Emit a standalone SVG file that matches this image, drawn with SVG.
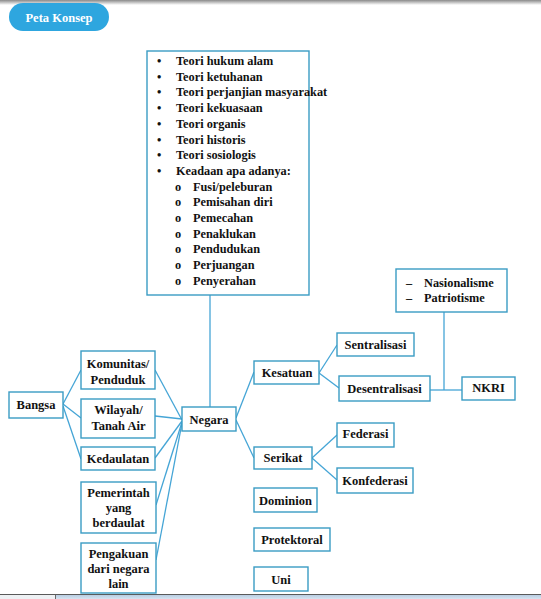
<svg xmlns="http://www.w3.org/2000/svg" width="541" height="599" viewBox="0 0 541 599">
<defs>
<linearGradient id="topbar" x1="0" y1="0" x2="0" y2="1"><stop offset="0" stop-color="#8a8a8a"/><stop offset="1" stop-color="#ffffff"/></linearGradient>
<linearGradient id="botbar" x1="0" y1="0" x2="0" y2="1"><stop offset="0" stop-color="#b9cde2"/><stop offset="1" stop-color="#d6e3f0"/></linearGradient>
<style>
.box{fill:#ffffff;stroke:#3a9cc4;stroke-width:1.4}
.t{font-family:'Times New Roman','Liberation Serif',serif;font-weight:bold;font-size:12.5px;fill:#111;text-anchor:middle}
.l{font-family:'Times New Roman','Liberation Serif',serif;font-weight:bold;font-size:12.3px;fill:#111}
.c{fill:none;stroke:#45a5d6;stroke-width:1.3}
</style>
</defs>
<rect x="0" y="0" width="541" height="599" fill="#ffffff"/>
<rect x="0" y="0" width="541" height="5" fill="url(#topbar)"/>
<g id="title">
<rect x="9" y="3" width="100" height="28" rx="14" fill="#2ea6df"/>
<text x="59" y="21.5" class="t" style="fill:#ffffff">Peta Konsep</text>
</g>
<g id="connectors">
<line class="c" x1="63" y1="404" x2="81" y2="370"/>
<line class="c" x1="63" y1="404" x2="81" y2="418"/>
<line class="c" x1="63" y1="406" x2="81" y2="459"/>
<line class="c" x1="155" y1="370" x2="182" y2="420"/>
<line class="c" x1="155" y1="416" x2="182" y2="419"/>
<line class="c" x1="155" y1="458" x2="182" y2="421"/>
<line class="c" x1="156" y1="505" x2="182" y2="422"/>
<line class="c" x1="156" y1="560" x2="182" y2="423"/>
<line class="c" x1="210" y1="295" x2="210" y2="407"/>
<line class="c" x1="236" y1="418" x2="254" y2="372"/>
<line class="c" x1="236" y1="420" x2="254" y2="458"/>
<line class="c" x1="319" y1="373" x2="337" y2="345"/>
<line class="c" x1="319" y1="373" x2="339" y2="388"/>
<line class="c" x1="312" y1="458" x2="337" y2="435"/>
<line class="c" x1="312" y1="458" x2="337" y2="480"/>
<line class="c" x1="444" y1="312" x2="444" y2="390"/>
<line class="c" x1="430" y1="390" x2="462" y2="390"/>
</g>
<g id="teori">
<rect class="box" x="147" y="51" width="162" height="244"/>
<g class="l">
<text x="157" y="65">•</text><text x="176" y="65">Teori hukum alam</text>
<text x="157" y="80.7">•</text><text x="176" y="80.7">Teori ketuhanan</text>
<text x="157" y="96.4">•</text><text x="176" y="96.4">Teori perjanjian masyarakat</text>
<text x="157" y="112.1">•</text><text x="176" y="112.1">Teori kekuasaan</text>
<text x="157" y="127.8">•</text><text x="176" y="127.8">Teori  organis</text>
<text x="157" y="143.5">•</text><text x="176" y="143.5">Teori historis</text>
<text x="157" y="159.2">•</text><text x="176" y="159.2">Teori sosiologis</text>
<text x="157" y="174.9">•</text><text x="176" y="174.9">Keadaan apa adanya:</text>
<text x="175" y="190.6">o</text><text x="193" y="190.6">Fusi/peleburan</text>
<text x="175" y="206.3">o</text><text x="193" y="206.3">Pemisahan diri</text>
<text x="175" y="222">o</text><text x="193" y="222">Pemecahan</text>
<text x="175" y="237.7">o</text><text x="193" y="237.7">Penaklukan</text>
<text x="175" y="253.4">o</text><text x="193" y="253.4">Pendudukan</text>
<text x="175" y="269.1">o</text><text x="193" y="269.1">Perjuangan</text>
<text x="175" y="284.8">o</text><text x="193" y="284.8">Penyerahan</text>
</g>
</g>
<g id="bangsa"><rect class="box" x="9" y="392" width="54" height="26"/><text class="t" x="36" y="409">Bangsa</text></g>
<g id="komunitas"><rect class="box" x="81" y="351" width="74" height="38"/><text class="t" x="118" y="367.5">Komunitas/</text><text class="t" x="118" y="384">Penduduk</text></g>
<g id="wilayah"><rect class="box" x="81" y="399" width="74" height="39"/><text class="t" x="118.5" y="414">Wilayah/</text><text class="t" x="118.5" y="429.5">Tanah Air</text></g>
<g id="kedaulatan"><rect class="box" x="81" y="447" width="74" height="23"/><text class="t" x="118" y="463">Kedaulatan</text></g>
<g id="pemerintah"><rect class="box" x="81" y="482" width="75" height="51"/><text class="t" x="118.5" y="496.5">Pemerintah</text><text class="t" x="118.5" y="511.5">yang</text><text class="t" x="118.5" y="527">berdaulat</text></g>
<g id="pengakuan"><rect class="box" x="81" y="543" width="75" height="50"/><text class="t" x="118.5" y="558">Pengakuan</text><text class="t" x="118.5" y="573">dari negara</text><text class="t" x="118.5" y="588">lain</text></g>
<g id="negara"><rect class="box" x="182" y="407" width="54" height="24"/><text class="t" x="209" y="423.5">Negara</text></g>
<g id="kesatuan"><rect class="box" x="254" y="361" width="65" height="23"/><text class="t" x="287" y="376.5">Kesatuan</text></g>
<g id="serikat"><rect class="box" x="254" y="447" width="58" height="22"/><text class="t" x="283" y="462">Serikat</text></g>
<g id="sentralisasi"><rect class="box" x="337" y="333" width="77" height="23"/><text class="t" x="375.5" y="348.5">Sentralisasi</text></g>
<g id="desentralisasi"><rect class="box" x="339" y="376" width="91" height="25"/><text class="t" x="384.5" y="393">Desentralisasi</text></g>
<g id="federasi"><rect class="box" x="337" y="423" width="57" height="24"/><text class="t" x="365.5" y="438">Federasi</text></g>
<g id="konfederasi"><rect class="box" x="337" y="468" width="76" height="25"/><text class="t" x="375" y="484.5">Konfederasi</text></g>
<g id="dominion"><rect class="box" x="254" y="488" width="63" height="24"/><text class="t" x="285.5" y="504.5">Dominion</text></g>
<g id="protektoral"><rect class="box" x="254" y="528" width="76" height="23"/><text class="t" x="292" y="544">Protektoral</text></g>
<g id="uni"><rect class="box" x="254" y="567" width="54" height="24"/><text class="t" x="281" y="583.5">Uni</text></g>
<g id="nasionalisme"><rect class="box" x="396" y="269" width="111" height="43"/>
<text class="l" x="406" y="287">–</text><text class="l" x="424" y="287">Nasionalisme</text>
<text class="l" x="406" y="302">–</text><text class="l" x="424" y="302">Patriotisme</text></g>
<g id="nkri"><rect class="box" x="462" y="377" width="53" height="23"/><text class="t" x="488.5" y="392">NKRI</text></g>
<g id="statusbar">
<rect x="0" y="594" width="541" height="1" fill="#5a5a5a"/>
<rect x="0" y="595" width="55" height="4" fill="#eef1f4"/>
<rect x="55" y="595" width="1" height="4" fill="#6a6a6a"/>
<rect x="56" y="595" width="485" height="4" fill="url(#botbar)"/>
</g>
</svg>
